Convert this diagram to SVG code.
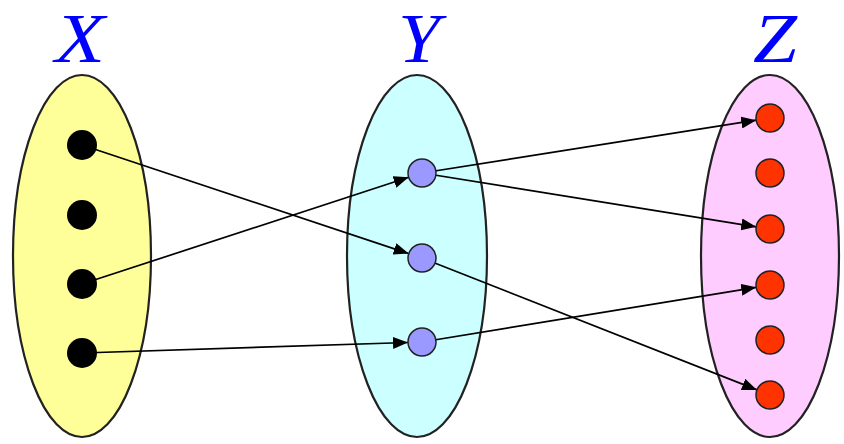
<svg xmlns="http://www.w3.org/2000/svg" width="844" height="444" viewBox="0 0 844 444">
<style>
.set{stroke:#222;stroke-width:2.2}
.lbl{font-family:"Liberation Serif","DejaVu Serif",serif;font-style:italic;font-size:70px;fill:#0000ff;text-anchor:middle}
.xd{fill:#000}
.yd{fill:#9999ff;stroke:#222;stroke-width:1.5}
.zd{fill:#ff3300;stroke:#222;stroke-width:1.5}
.edge{stroke:#000;stroke-width:1.7;fill:none;marker-end:url(#ah)}
</style>
<defs>
<marker id="ah" viewBox="0 0 15 12" refX="15" refY="6" markerWidth="15" markerHeight="12" markerUnits="userSpaceOnUse" orient="auto">
<path d="M0,0 L15,6 L0,12 z" fill="#000"/>
</marker>
</defs>
<rect width="844" height="444" fill="#fff"/>
<g id="setX">
<text class="lbl" x="80" y="62" textLength="50" lengthAdjust="spacingAndGlyphs">X</text>
<ellipse class="set" cx="82" cy="256" rx="69" ry="181" fill="#ffff99"/>
</g>
<g id="setY">
<text class="lbl" x="419" y="62" textLength="42" lengthAdjust="spacingAndGlyphs">Y</text>
<ellipse class="set" cx="417" cy="256" rx="70" ry="181" fill="#ccffff"/>
</g>
<g id="setZ">
<text class="lbl" x="775" y="62" textLength="44" lengthAdjust="spacingAndGlyphs">Z</text>
<ellipse class="set" cx="770" cy="256" rx="69" ry="181" fill="#ffccff"/>
</g>
<g id="connectors">
<line class="edge" x1="82" y1="145" x2="408.7" y2="253.6"/>
<line class="edge" x1="82" y1="284" x2="408.7" y2="177.3"/>
<line class="edge" x1="82" y1="353" x2="408" y2="342.5"/>
<line class="edge" x1="422" y1="173" x2="756.2" y2="120.2"/>
<line class="edge" x1="422" y1="173" x2="756.2" y2="226.8"/>
<line class="edge" x1="422" y1="258" x2="757" y2="389.9"/>
<line class="edge" x1="422" y1="342" x2="756.2" y2="287.3"/>
</g>
<g id="x1"><circle class="xd" cx="82" cy="145" r="15"/></g>
<g id="x2"><circle class="xd" cx="82" cy="215" r="15"/></g>
<g id="x3"><circle class="xd" cx="82" cy="284" r="15"/></g>
<g id="x4"><circle class="xd" cx="82" cy="353" r="15"/></g>
<g id="y1"><circle class="yd" cx="422" cy="173" r="14"/></g>
<g id="y2"><circle class="yd" cx="422" cy="258" r="14"/></g>
<g id="y3"><circle class="yd" cx="422" cy="342" r="14"/></g>
<g id="z1"><circle class="zd" cx="770" cy="118" r="14"/></g>
<g id="z2"><circle class="zd" cx="770" cy="173" r="14"/></g>
<g id="z3"><circle class="zd" cx="770" cy="229" r="14"/></g>
<g id="z4"><circle class="zd" cx="770" cy="285" r="14"/></g>
<g id="z5"><circle class="zd" cx="770" cy="340" r="14"/></g>
<g id="z6"><circle class="zd" cx="770" cy="395" r="14"/></g>
</svg>
